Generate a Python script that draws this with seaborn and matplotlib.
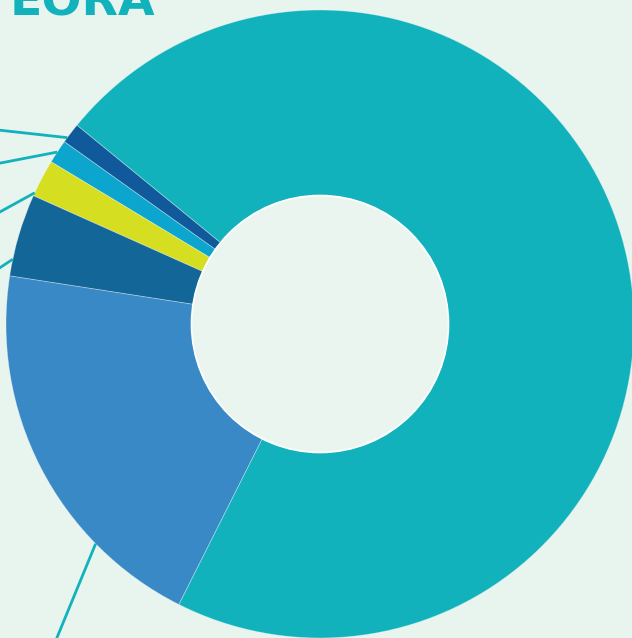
import numpy as np
import matplotlib
matplotlib.use("Agg")
import matplotlib.pyplot as plt
import seaborn as sns

# ---- data ----
categories = ["Segment A", "Segment B", "Segment C", "Segment D", "Segment E", "Segment F"]
shares = [1.06, 1.22, 1.94, 4.25, 20.03, 71.50]
colors = ["#105A9B", "#0CA5CD", "#D6DE22", "#126698", "#3889C6", "#12B2BC"]
title_text = "EORA"

# ---- layout ----
W, H, DPI = 632, 638, 100
BG = "#E8F4EE"
TEAL = "#12B2BC"
R_OUT, R_IN = 314, 128.5
CX, CY = 320, 324          # pixel position of the donut centre (from left / top)
START = 140.7
# leader lines: (anchor angle in degrees, end point in pixels from left/top)
leaders = [(143.6, (-2, 130)), (146.8, (-2, 163.5)), (155.3, (-2, 213)),
           (168.1, (-2, 269)), (224.4, (56, 640))]

sns.set_style("white")
fig = plt.figure(figsize=(W / DPI, H / DPI), dpi=DPI, facecolor=BG)
ax = fig.add_axes([0, 0, 1, 1])
ax.set_facecolor(BG)

wedges, _ = ax.pie(shares, colors=sns.color_palette(colors), startangle=START,
                   counterclock=True, radius=R_OUT, center=(0, 0),
                   wedgeprops=dict(width=R_OUT - R_IN, linewidth=0.6,
                                   edgecolor=(1, 1, 1, 0.35)))
ax.add_patch(plt.Circle((0, 0), R_IN, facecolor="#EAF5F0", edgecolor="white",
                        linewidth=1.2, zorder=3))

for ang, (px, py) in leaders:
    a = np.deg2rad(ang)
    x0, y0 = R_OUT * np.cos(a), R_OUT * np.sin(a)
    x1, y1 = px - CX, CY - py
    ax.plot([x0, x1], [y0, y1], color=TEAL, lw=2, solid_capstyle="butt", clip_on=False)

ax.set_xlim(-CX, W - CX)
ax.set_ylim(-(H - CY), CY)
ax.set_aspect("equal")
ax.axis("off")

fig.text(10 / W, 1 - 16 / H, title_text, color=TEAL, fontsize=34,
         fontweight="heavy", family=["DejaVu Sans"], va="baseline", ha="left")

fig.savefig("out.png", dpi=DPI, facecolor=BG)
